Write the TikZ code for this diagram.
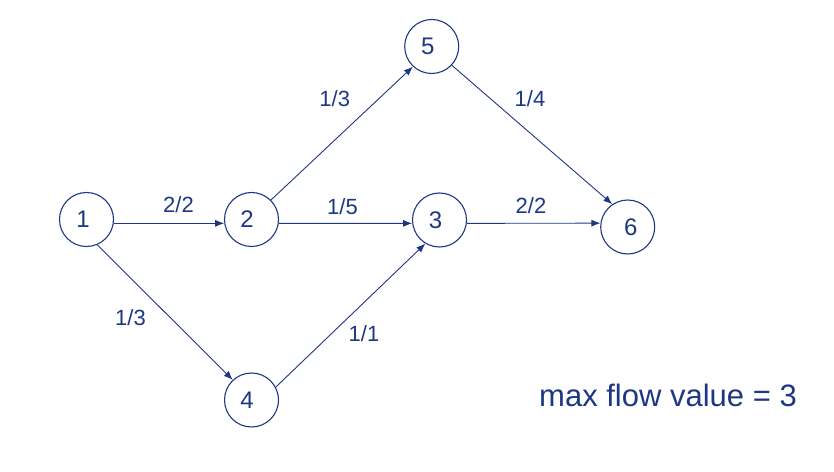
\documentclass[tikz,border=0pt]{standalone}
\usepackage{fontspec}
\setmainfont{Liberation Sans}
\usetikzlibrary{arrows.meta}
\definecolor{navy}{RGB}{30,55,130}
\tikzset{
  vertex/.style={circle, draw=navy, line width=1.1pt, minimum size=54pt, inner sep=0pt, text=navy, font=\fontsize{24}{28}\selectfont},
  flow/.style={draw=navy, line width=0.9pt, -{Latex[length=9pt,width=7pt]}},
  flowlabel/.style={text=navy, anchor=base, inner sep=0pt, font=\fontsize{22}{26}\selectfont},
  note/.style={text=navy, anchor=base west, inner sep=0pt, font=\fontsize{31}{36}\selectfont}
}
\begin{document}
\begin{tikzpicture}[x=1pt,y=1pt]
\useasboundingbox (0,0) rectangle (834,471);
\node[vertex] (n1) at (86.5,251.5) {\kern-7pt 1};
\node[vertex] (n2) at (251.5,251.5) {\kern-9pt 2};
\node[vertex] (n3) at (439.5,251) {\kern-8pt 3};
\node[vertex] (n4) at (251.5,71) {\kern-9pt 4};
\node[vertex] (n5) at (431.7,424.5) {\kern-8pt 5};
\node[vertex] (n6) at (627.7,244) {\kern6pt 6};
\draw[flow] (n1.-8) -- (n2.188);
\draw[flow] (n2.-8) -- (n3.187);
\draw[flow] (n3.-7) -- (n6.172);
\draw[flow] (n2.45) -- (n5.-133);
\draw[flow] (n5.-43) -- (n6.124);
\draw[flow] (n1.-67) -- (n4.133);
\draw[flow] (n4.28) -- (n3.-121);
\node[flowlabel] (c12) at (178.5,258.7) {2/2};
\node[flowlabel] (c23) at (342.5,256) {1/5};
\node[flowlabel] (c36) at (531,257.7) {2/2};
\node[flowlabel] (c25) at (334.7,364.3) {1/3};
\node[flowlabel] (c56) at (530,364.3) {1/4};
\node[flowlabel] (c14) at (130.5,145) {1/3};
\node[flowlabel] (c43) at (364,129.3) {1/1};
\node[note] (mf) at (539,64.3) {max flow value = 3};
\end{tikzpicture}
\end{document}
